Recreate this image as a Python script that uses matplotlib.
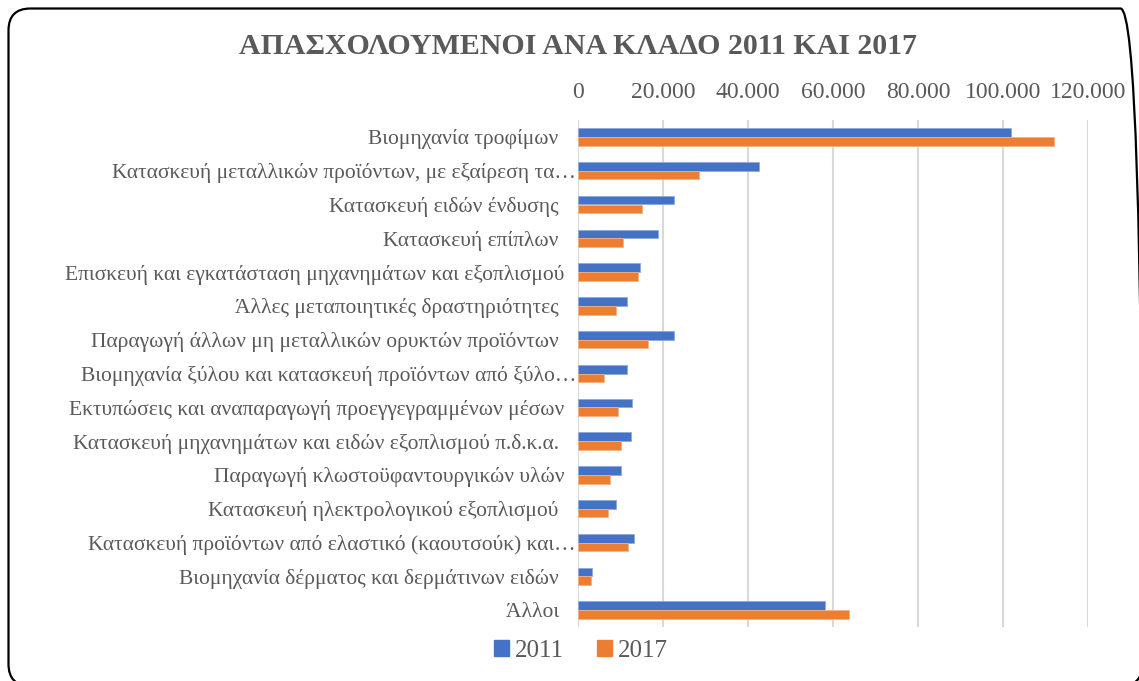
import matplotlib
matplotlib.use("Agg")
import matplotlib.pyplot as plt
from matplotlib.patches import FancyBboxPatch, Patch
from matplotlib.ticker import FuncFormatter
from matplotlib.transforms import ScaledTranslation, IdentityTransform

categories = [
    "Βιομηχανία τροφίμων ",
    "Κατασκευή μεταλλικών προϊόντων, με εξαίρεση τα…",
    "Κατασκευή ειδών ένδυσης ",
    "Κατασκευή επίπλων ",
    "Επισκευή και εγκατάσταση μηχανημάτων και εξοπλισμού",
    "Άλλες μεταποιητικές δραστηριότητες ",
    "Παραγωγή άλλων μη μεταλλικών ορυκτών προϊόντων ",
    "Βιομηχανία ξύλου και κατασκευή προϊόντων από ξύλο…",
    "Εκτυπώσεις και αναπαραγωγή προεγγεγραμμένων μέσων",
    "Κατασκευή μηχανημάτων και ειδών εξοπλισμού π.δ.κ.α. ",
    "Παραγωγή κλωστοϋφαντουργικών υλών",
    "Κατασκευή ηλεκτρολογικού εξοπλισμού ",
    "Κατασκευή προϊόντων από ελαστικό (καουτσούκ) και…",
    "Βιομηχανία δέρματος και δερμάτινων ειδών ",
    "Άλλοι ",
]
values_2011 = [101800, 42600, 22700, 18800, 14700, 11600, 22500, 11600,
               12800, 12500, 10200, 9000, 13100, 3400, 58200]
values_2017 = [112100, 28400, 15100, 10700, 14200, 9000, 16400, 6200,
               9500, 10200, 7500, 7100, 11800, 3000, 63700]
series_names = ["2011", "2017"]
x_ticks = [0, 20000, 40000, 60000, 80000, 100000, 120000]

BLUE = "#4472C4"
ORANGE = "#ED7D31"
TXT = "#595959"
GRID = "#D9D9D9"
SERIF = ["Liberation Serif", "DejaVu Serif"]

plt.rcParams["font.family"] = SERIF

W, H = 1139, 681
fig = plt.figure(figsize=(W / 100, H / 100), dpi=100)

# rounded border in display pixels (y measured from bottom)
border = FancyBboxPatch((8.5, -5), 1142.5 - 8.5, (H - 8.5) + 5,
                        boxstyle="round,pad=0,rounding_size=22",
                        transform=IdentityTransform(), fill=False,
                        edgecolor="black", linewidth=1.6)
fig.patches.append(border)

ax = fig.add_axes([578 / W, 1 - 627 / H, (1088 - 578) / W, (627 - 120) / H])

n = len(categories)
idx = list(range(n))
bh = 0.26
ax.barh([i - bh / 2 for i in idx], values_2011, height=bh, color=BLUE,
        edgecolor="#8FAADC", linewidth=0.6, zorder=3, label=series_names[0])
ax.barh([i + bh / 2 for i in idx], values_2017, height=bh, color=ORANGE,
        edgecolor="#F4B183", linewidth=0.6, zorder=3, label=series_names[1])

ax.set_ylim(n - 0.5, -0.5)
ax.set_xlim(0, 120000)
ax.set_yticks(idx)
ax.set_yticklabels(categories, fontsize=15.5, color=TXT)
ax.set_xticks(x_ticks)
ax.xaxis.set_major_formatter(FuncFormatter(lambda v, p: f"{int(v):,}".replace(",", ".")))
ax.xaxis.tick_top()
ax.tick_params(axis="x", length=0, pad=12, labelsize=17, labelcolor=TXT)
ax.tick_params(axis="y", length=0, pad=10)
for s in ax.spines.values():
    s.set_visible(False)
ax.grid(axis="x", color=GRID, linewidth=1.5, zorder=0)
ax.set_axisbelow(True)

# truncated labels overflow slightly toward the axis, as in the original
shift = ScaledTranslation(12 / 100, 0, fig.dpi_scale_trans)
for lab in ax.get_yticklabels():
    if lab.get_text().endswith("…"):
        lab.set_transform(lab.get_transform() + shift)

fig.text(578 / W, 1 - 47 / H, "ΑΠΑΣΧΟΛΟΥΜΕΝΟΙ ΑΝΑ ΚΛΑΔΟ 2011 ΚΑΙ 2017",
         ha="center", va="center", fontsize=21.5, fontweight="bold", color=TXT)

handles = [Patch(color=BLUE), Patch(color=ORANGE)]
fig.legend(handles, series_names, loc="center", bbox_to_anchor=(581 / W, 1 - 651 / H),
           ncol=2, frameon=False, fontsize=18, labelcolor=TXT,
           handlelength=0.6, handleheight=0.6, handletextpad=0.25, columnspacing=1.3)

fig.savefig("out.png", dpi=100)
